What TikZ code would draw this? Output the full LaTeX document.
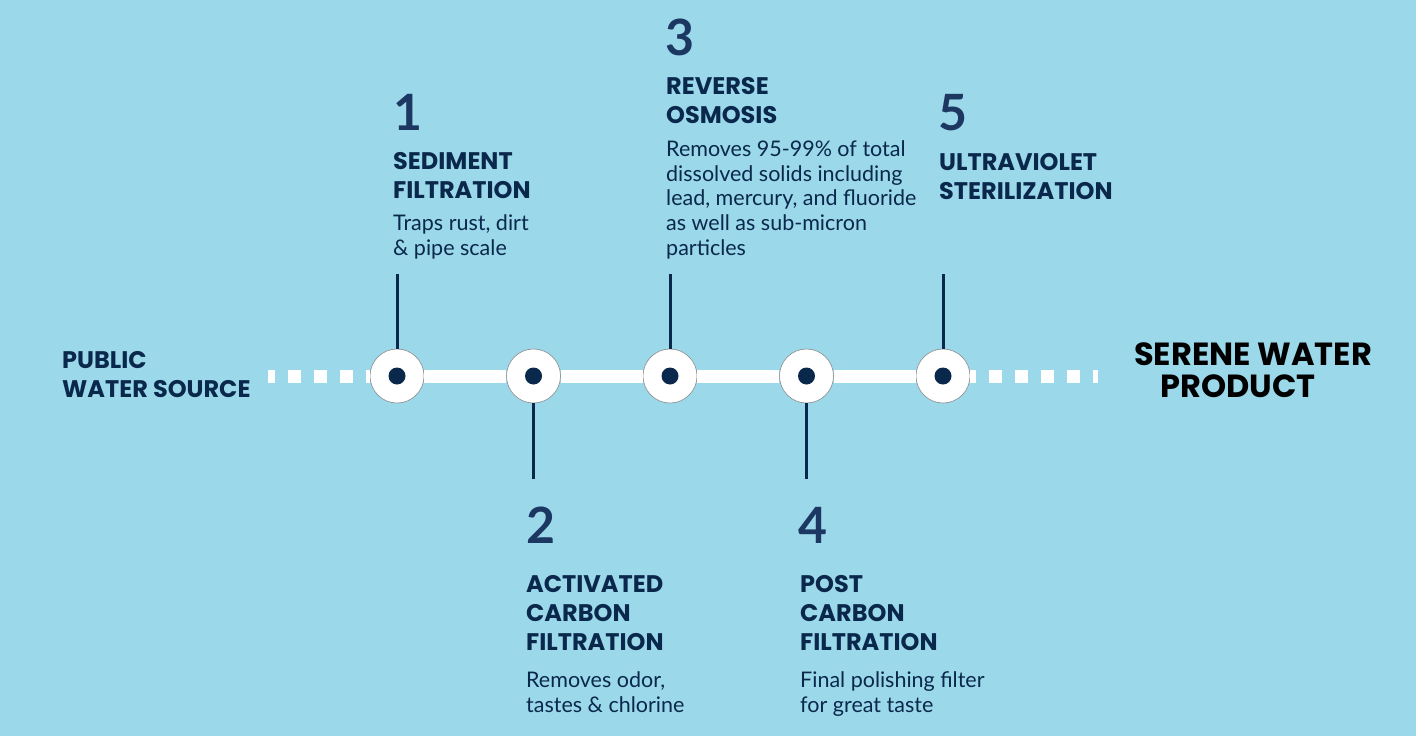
\documentclass[tikz,border=0pt]{standalone}
\usepackage{fontspec}
\setmainfont{Lato}
\newfontfamily\headfont{Poppins}
\usetikzlibrary{positioning}
\definecolor{sky}{RGB}{154,216,234}
\definecolor{navy}{RGB}{10,40,76}
\definecolor{numblue}{RGB}{28,56,98}

\begin{document}
\begin{tikzpicture}[x=1pt,y=-1pt,node distance=81.9pt,
  stage/.style={circle,fill=white,draw=black!45,line width=0.6pt,minimum size=54pt,inner sep=0pt},
  dot/.style={circle,fill=navy,minimum size=17pt,inner sep=0pt},
  stem/.style={navy,line width=3pt},
  pipe/.style={white,line width=13pt},
  dots/.style={white,line width=13pt,dash pattern=on 13pt off 13pt},
  num/.style={anchor=base west,inner sep=0pt,text=numblue,font=\fontsize{50}{50}\selectfont\bfseries},
  head/.style={anchor=base west,inner sep=0pt,align=left,text=navy,font=\headfont\fontsize{24}{29}\selectfont\bfseries},
  body/.style={anchor=base west,inner sep=0pt,align=left,text=navy,font=\fontsize{21.5}{24.6}\selectfont}]

  \fill[sky] (0,0) rectangle (1416,736);
  \useasboundingbox (0,0) rectangle (1416,736);

  % the five stages
  \node[stage] (s1) at (397,376) {};
  \node[stage] (s2) [right=of s1] {};
  \node[stage] (s3) [right=of s2] {};
  \node[stage] (s4) [right=of s3] {};
  \node[stage] (s5) [right=of s4] {};
  \node[dot] (d1) at (s1) {};
  \node[dot] (d2) at (s2) {};
  \node[dot] (d3) at (s3) {};
  \node[dot] (d4) at (s4) {};
  \node[dot] (d5) at (s5) {};

  \coordinate (src) at (268,376);
  \coordinate (dst) at (1098,376);
  \coordinate[above=75pt of s1.north] (top1);
  \coordinate[below=76pt of s2.south] (bot2);
  \coordinate[above=75pt of s3.north] (top3);
  \coordinate[below=76pt of s4.south] (bot4);
  \coordinate[above=75pt of s5.north] (top5);

  \draw[dots,dash phase=6pt] (src) -- (s1.west);
  \draw[dots,dash phase=7pt] (s5.east) -- (dst);
  \draw[pipe] (s1.east) -- (s2.west);
  \draw[pipe] (s2.east) -- (s3.west);
  \draw[pipe] (s3.east) -- (s4.west);
  \draw[pipe] (s4.east) -- (s5.west);

  \draw[stem] (s1.north) -- (top1);
  \draw[stem] (s2.south) -- (bot2);
  \draw[stem] (s3.north) -- (top3);
  \draw[stem] (s4.south) -- (bot4);
  \draw[stem] (s5.north) -- (top5);

  % ends (base = last line)
  \node[head] (source) at (62,397) {PUBLIC\\WATER SOURCE};
  \node[anchor=base west,inner sep=0pt,align=left,font=\headfont\fontsize{32}{32}\selectfont\bfseries]
    (product) at (1134,397) {SERENE WATER\\\hspace*{26pt}PRODUCT};

  % texts
  \node[num] (n1) at (393,130) {1};
  \node[head] (h1) at (393,198) {SEDIMENT\\FILTRATION};
  \node[body] (b1) at (393,255) {Traps rust, dirt\\\& pipe scale};

  \node[num] (n2) at (526,543) {2};
  \node[head] (h2) at (526,650) {ACTIVATED\\CARBON\\FILTRATION};
  \node[body] (b2) at (526,712) {Removes odor,\\tastes \& chlorine};

  \node[num] (n3) at (665,55) {3};
  \node[head] (h3) at (666,123) {REVERSE\\OSMOSIS};
  \node[body] (b3) at (666,255) {Removes 95-99\% of total\\dissolved solids including\\lead, mercury, and fluoride\\as well as sub-micron\\particles};

  \node[num] (n4) at (798,543) {4};
  \node[head] (h4) at (800,650) {POST\\CARBON\\FILTRATION};
  \node[body] (b4) at (800,712) {Final polishing filter\\for great taste};

  \node[num] (n5) at (938,130) {5};
  \node[head] (h5) at (939,199) {ULTRAVIOLET\\STERILIZATION};
\end{tikzpicture}
\end{document}
